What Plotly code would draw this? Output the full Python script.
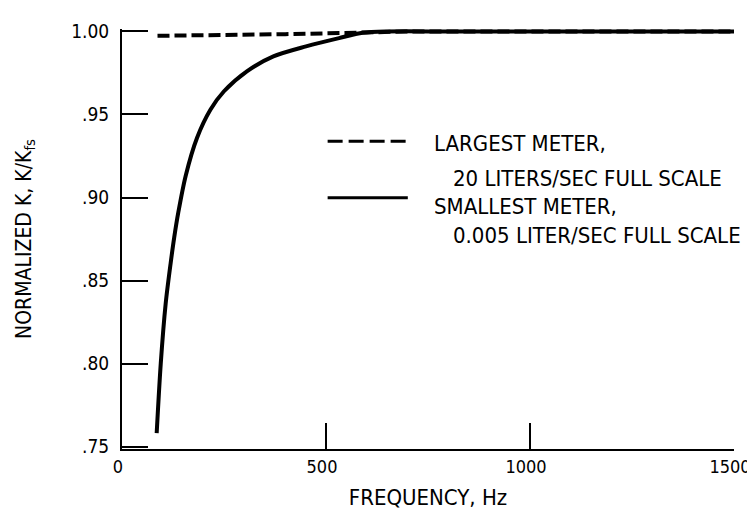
import plotly.graph_objects as go

# Data
small_freq = [85, 95, 107, 119, 128, 138, 156, 184, 217, 250, 306, 371, 451, 532, 590, 650, 800, 1000, 1250, 1500]
small_k = [0.758, 0.800, 0.836, 0.860, 0.876, 0.891, 0.913, 0.936, 0.953, 0.964, 0.976, 0.985, 0.991, 0.996, 0.9992, 1.0, 1.0, 1.0, 1.0, 1.0]

large_freq = [87, 200, 300, 400, 500, 600, 700, 1000, 1500]
large_k = [0.9974, 0.9976, 0.998, 0.9984, 0.9989, 0.9996, 1.0, 1.0, 1.0]

x_ticks = [0, 500, 1000, 1500]
x_tick_text = ["0", "500", "1000", "1500"]
y_ticks = [0.75, 0.80, 0.85, 0.90, 0.95, 1.00]
y_tick_text = [".75", ".80", ".85", ".90", ".95", "1.00"]

legend_lines = ["LARGEST METER,", "20 LITERS/SEC FULL SCALE",
                "SMALLEST METER,", "0.005 LITER/SEC FULL SCALE"]

FONT = "DejaVu Sans Condensed, Liberation Sans Narrow, Arial Narrow, sans-serif"

fig = go.Figure()
fig.add_trace(go.Scatter(x=large_freq, y=large_k, mode="lines",
                         line=dict(color="black", width=4, dash="12px,5px"),
                         showlegend=False, hoverinfo="skip"))
fig.add_trace(go.Scatter(x=small_freq, y=small_k, mode="lines",
                         line=dict(color="black", width=4, shape="spline", smoothing=0.8),
                         showlegend=False, hoverinfo="skip"))

# custom legend keys (paper coordinates)
fig.add_shape(type="line", xref="paper", yref="paper", x0=0.336, x1=0.467, y0=0.733, y1=0.733,
              line=dict(color="black", width=3, dash="15px,6px"))
fig.add_shape(type="line", xref="paper", yref="paper", x0=0.336, x1=0.467, y0=0.598, y1=0.598,
              line=dict(color="black", width=3))

legend_pos = [(0.506, 0.727), (0.538, 0.645), (0.506, 0.578), (0.538, 0.508)]
for txt, (xp, yp) in zip(legend_lines, legend_pos):
    fig.add_annotation(text=txt, xref="paper", yref="paper", x=xp, y=yp,
                       xanchor="left", yanchor="middle", showarrow=False,
                       font=dict(family=FONT, size=22, color="black"))

fig.update_layout(
    width=755, height=510,
    margin=dict(l=114, r=22, t=21, b=65),
    paper_bgcolor="white", plot_bgcolor="white",
    font=dict(family=FONT, size=19, color="black"),
    xaxis=dict(range=[0, 1500], tickvals=x_ticks, ticktext=x_tick_text,
               ticks="inside", ticklen=26, tickwidth=2, tickcolor="black",
               ticklabelshift=-4,
               showline=True, linewidth=2, linecolor="black", showgrid=False, zeroline=False,
               tickfont=dict(family=FONT, size=18),
               title=dict(text="FREQUENCY, Hz", standoff=14, font=dict(family=FONT, size=22))),
    yaxis=dict(range=[0.7485, 1.0015], tickvals=y_ticks, ticktext=y_tick_text,
               ticks="inside", ticklen=26, tickwidth=2, tickcolor="black",
               ticklabelstandoff=7,
               showline=True, linewidth=2, linecolor="black", showgrid=False, zeroline=False,
               tickfont=dict(family=FONT, size=19),
               title=dict(text="NORMALIZED K, K/K<sub>fs</sub>", standoff=34, font=dict(family=FONT, size=21))),
)

fig.write_html("out.html")
